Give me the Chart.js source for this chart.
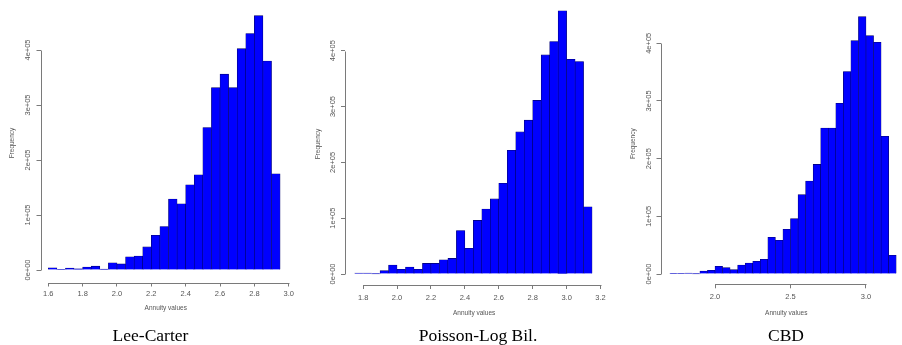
<!DOCTYPE html>
<html><head><meta charset="utf-8">
<script src="https://cdn.jsdelivr.net/npm/chart.js@4.4.0/dist/chart.umd.min.js"></script>
<style>
html,body{margin:0;padding:0;background:#fff;width:902px;height:345px;overflow:hidden;}
#wrap{position:relative;width:902px;height:345px;overflow:hidden;background:#fff;}
canvas{position:absolute;top:0;}
.ttl{position:absolute;font-family:"Liberation Serif","Times New Roman",serif;font-size:17.5px;line-height:17.5px;color:#000;white-space:nowrap;transform:translateX(-50%);top:327px;}
</style></head><body>
<div id="wrap">
<canvas id="c1" width="300" height="345" style="left:0px"></canvas>
<canvas id="c2" width="310" height="345" style="left:300px"></canvas>
<canvas id="c3" width="305" height="345" style="left:610px"></canvas>
<div class="ttl" style="left:150.5px">Lee-Carter</div>
<div class="ttl" style="left:478px">Poisson-Log Bil.</div>
<div class="ttl" style="left:786px">CBD</div>
</div>
<script>
// ---------- DATA ----------
// Lee-Carter: bin lower edges (width 0.05) and frequencies
const lcBins = [1.60,1.65,1.70,1.75,1.80,1.85,1.90,1.95,2.00,2.05,2.10,2.15,2.20,2.25,2.30,2.35,2.40,2.45,2.50,2.55,2.60,2.65,2.70,2.75,2.80,2.85,2.90];
const lcCounts = [4000,500,3500,2000,5500,7000,1500,13000,11000,24000,25500,42000,63000,79000,129000,120500,155000,173000,259000,331500,356000,331500,402500,430000,462500,380000,175000];
const lcTicks = [1.6,1.8,2.0,2.2,2.4,2.6,2.8,3.0];
const lcTickLabels = ['1.6','1.8','2.0','2.2','2.4','2.6','2.8','3.0'];

// Poisson-Log Bilinear
const plBins = [1.75,1.80,1.85,1.90,1.95,2.00,2.05,2.10,2.15,2.20,2.25,2.30,2.35,2.40,2.45,2.50,2.55,2.60,2.65,2.70,2.75,2.80,2.85,2.90,2.95,3.00,3.05,3.10];
const plCounts = [1800,1800,300,6000,16000,8500,12500,8500,19000,19000,25500,28000,78000,46000,96000,116500,134500,162500,221500,254500,275500,311000,392500,416500,471500,384500,380500,120500];
const plTicks = [1.8,2.0,2.2,2.4,2.6,2.8,3.0,3.2];
const plTickLabels = ['1.8','2.0','2.2','2.4','2.6','2.8','3.0','3.2'];

// CBD
const cbdBins = [1.70,1.75,1.80,1.85,1.90,1.95,2.00,2.05,2.10,2.15,2.20,2.25,2.30,2.35,2.40,2.45,2.50,2.55,2.60,2.65,2.70,2.75,2.80,2.85,2.90,2.95,3.00,3.05,3.10,3.15];
const cbdCounts = [500,1200,1700,300,5200,6400,13300,11000,7500,15600,19000,22000,25400,63600,58400,77500,96000,137600,161300,190000,253000,253000,296000,351000,404600,446200,413300,401700,238700,32400];
const cbdTicks = [2.0,2.5,3.0];
const cbdTickLabels = ['2.0','2.5','3.0'];

// Frequency axis (shared)
const freqTicks = [0,100000,200000,300000,400000];
const freqTickLabels = ['0e+00','1e+05','2e+05','3e+05','4e+05'];

const xTitle = 'Annuity values';
const yTitle = 'Frequency';

// ---------- STYLE / LAYOUT ----------
const FAMILY = "'Liberation Sans', Arial, sans-serif";
const TICK_SIZE = 7.5, TITLE_SIZE = 6.5, TL = 4;
const Wy = 34, Hx = 40, CH = 345;

const mctx = document.createElement('canvas').getContext('2d');
mctx.font = TICK_SIZE + 'px ' + FAMILY;
const widestY = Math.max(...freqTickLabels.map(s => mctx.measureText(s).width));

const rAxes = {
  id: 'rAxes',
  afterDraw(chart) {
    const {ctx, chartArea, scales: {x, y}} = chart;
    ctx.save();
    ctx.strokeStyle = '#7a7a7a';
    ctx.lineWidth = 1;
    const xa = x.getPixelForValue(x.ticks[0].value);
    const xb = x.getPixelForValue(x.ticks[x.ticks.length - 1].value);
    const yy = Math.round(chartArea.bottom) + 0.5;
    ctx.beginPath(); ctx.moveTo(Math.round(xa) + 0.5, yy); ctx.lineTo(Math.round(xb) + 0.5, yy); ctx.stroke();
    const ya = y.getPixelForValue(y.ticks[0].value);
    const yb = y.getPixelForValue(y.ticks[y.ticks.length - 1].value);
    const xx = Math.round(chartArea.left) + 0.5;
    ctx.beginPath(); ctx.moveTo(xx, Math.round(ya) + 0.5); ctx.lineTo(xx, Math.round(yb) + 0.5); ctx.stroke();
    ctx.restore();
  }
};

function histogram(id, bins, counts, xTicks, xTickLabels, g) {
  const L = g.axisX - g.left, R = g.right - g.left;
  const xval = p => g.xv0 + (p - g.xp0) * (g.xv1 - g.xv0) / (g.xp1 - g.xp0);
  const yval = p => (g.yp0 - p) / (g.yp0 - g.yp4) * 400000;
  const w = bins[1] - bins[0];
  const tLh = TITLE_SIZE * 1.2, kLh = TICK_SIZE * 1.2;
  new Chart(document.getElementById(id), {
    type: 'bar',
    data: {
      datasets: [{
        data: bins.map((b, i) => ({x: b + w / 2, y: counts[i]})),
        backgroundColor: '#0000ff',
        borderColor: '#00006a',
        borderWidth: 0.6,
        borderSkipped: 'start',
        barPercentage: 1,
        categoryPercentage: 1
      }]
    },
    options: {
      responsive: false, animation: false, devicePixelRatio: 1,
      layout: {padding: {left: L - Wy, right: g.cw - R, top: g.top, bottom: CH - g.axisY - Hx}},
      plugins: {legend: {display: false}, tooltip: {enabled: false}},
      scales: {
        x: {
          type: 'linear', bounds: 'data', offset: false,
          min: xval(g.axisX), max: xval(g.right),
          afterBuildTicks: s => { s.ticks = xTicks.map(v => ({value: v})); },
          afterFit: s => { s.height = Hx; },
          grid: {display: true, drawOnChartArea: false, drawTicks: true, tickLength: TL, color: '#7a7a7a', offset: false},
          border: {display: false},
          ticks: {autoSkip: false, maxRotation: 0, minRotation: 0, padding: g.xlabOff - TL - kLh / 2,
                  color: '#555', font: {family: FAMILY, size: TICK_SIZE},
                  callback: (v, i) => xTickLabels[i]},
          title: {display: true, text: xTitle, color: '#555', font: {family: FAMILY, size: TITLE_SIZE},
                  padding: {top: 0, bottom: g.axisY + Hx - tLh / 2 - g.annY}}
        },
        y: {
          type: 'linear', bounds: 'data',
          min: yval(g.axisY), max: yval(g.top),
          afterBuildTicks: s => { s.ticks = freqTicks.map(v => ({value: v})); },
          afterFit: s => { s.width = Wy; },
          grid: {display: true, drawOnChartArea: false, drawTicks: true, tickLength: TL, color: '#7a7a7a'},
          border: {display: false},
          ticks: {autoSkip: false, minRotation: 90, maxRotation: 90, crossAlign: 'center',
                  padding: g.ylabOff - TL - widestY / 2,
                  color: '#555', font: {family: FAMILY, size: TICK_SIZE},
                  callback: (v, i) => freqTickLabels[i]},
          title: {display: true, text: yTitle, color: '#555', font: {family: FAMILY, size: TITLE_SIZE},
                  padding: {top: g.freqX - g.axisX + Wy - tLh / 2, bottom: 0}}
        }
      }
    },
    plugins: [rAxes]
  });
}

histogram('c1', lcBins, lcCounts, lcTicks, lcTickLabels,
  {left: 0, cw: 300, xv0: 1.6, xp0: 48.3, xv1: 3.0, xp1: 288.7, yp0: 270, yp4: 50,
   axisX: 40.5, axisY: 282.5, top: 3.5, right: 291, freqX: 12.3, annY: 308.3, xlabOff: 11, ylabOff: 12.2});
histogram('c2', plBins, plCounts, plTicks, plTickLabels,
  {left: 300, cw: 310, xv0: 1.8, xp0: 363.3, xv1: 3.2, xp1: 603.3, yp0: 274, yp4: 50.7,
   axisX: 345, axisY: 285, top: 3, right: 606, freqX: 318.3, annY: 313.3, xlabOff: 12.7, ylabOff: 11.7});
histogram('c3', cbdBins, cbdCounts, cbdTicks, cbdTickLabels,
  {left: 610, cw: 305, xv0: 2.0, xp0: 715, xv1: 3.0, xp1: 866, yp0: 274, yp4: 43.3,
   axisX: 660.5, axisY: 284.3, top: 3, right: 912, freqX: 633.3, annY: 313, xlabOff: 13, ylabOff: 11.2});
</script>
</body></html>
